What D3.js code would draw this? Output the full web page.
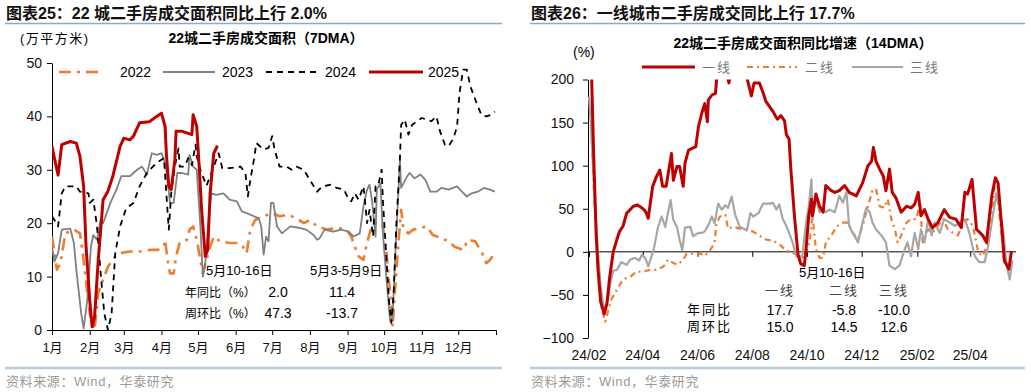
<!DOCTYPE html>
<html>
<head>
<meta charset="utf-8">
<script src="https://cdnjs.cloudflare.com/ajax/libs/d3/7.8.5/d3.min.js"></script>
<style>
body { margin: 0; background: #fff; }
text { font-family: "Liberation Sans", "Noto Sans CJK SC", sans-serif; }
</style>
</head>
<body>
<div id="chart"></div>
<script>
////////// data //////////

// left chart: day of year -> 万平方米 (7DMA)
var monthLabels = ["1月", "2月", "3月", "4月", "5月", "6月", "7月", "8月", "9月", "10月", "11月", "12月"];
var monthStarts = [0, 31, 59, 90, 120, 151, 181, 212, 243, 273, 304, 334, 365];
var leftTicks = [0, 10, 20, 30, 40, 50];
var years = ["2022", "2023", "2024", "2025"];

var area2022 = [[0,17.5],[2,14.4],[4,11.3],[7,12.5],[11,18.1],[18,18.8],[23,18.1],[26,13.1],[29,6.9],[31,3.1],[35,0],[38,6.9],[42,9.4],[46,11.9],[52,13.8],[56,14.4],[64,14.7],[72,14.7],[81,15],[87,15],[92,15.6],[93,16.9],[95,13.1],[97,10.6],[100,10.6],[102,13.8],[105,16.3],[111,16.9],[113,18.8],[116,19.4],[119,16.9],[122,13.1],[124,10.6],[127,13.1],[130,15.6],[133,17.5],[138,16.6],[146,16.3],[153,16.3],[157,15.6],[160,14.4],[163,18.8],[167,20.6],[174,21.3],[181,21.9],[187,21.3],[194,21.6],[201,20.9],[207,20],[212,20.6],[218,19.4],[226,18.8],[234,19.1],[242,18.8],[246,17.5],[249,15.6],[252,13.8],[256,13.1],[259,16.3],[262,18.8],[266,20],[270,20],[272,19.4],[275,14.4],[278,6.9],[280,0.6],[282,7.5],[285,16.9],[287,22.5],[289,18.8],[293,18.1],[297,18.8],[303,19.1],[308,19.4],[313,17.8],[320,17.2],[326,16.6],[331,15.6],[338,15],[342,16.9],[348,16.6],[352,15],[355,13.8],[357,12.5],[360,13.1],[364,14.4]];

var area2023 = [[0,15.6],[2,12.8],[5,14.4],[8,18.8],[15,19.0],[18,16.3],[20,11.3],[24,3.1],[26,0.3],[29,5.6],[32,15.6],[34,17.8],[37,16.9],[40,20.6],[42,20],[48,23.8],[53,26.3],[57,28.8],[64,28.8],[70,30],[74,30.6],[78,29.1],[82,33.1],[86,32.8],[90,33.1],[93,31.3],[95,28.1],[97,23.8],[100,23.8],[103,29.4],[107,29.4],[112,29.1],[113,32.8],[116,30.6],[119,30],[122,19.4],[124,10],[126,12.5],[129,21.3],[131,25.6],[135,25.3],[141,25.6],[146,24.4],[152,24.1],[156,22.2],[160,21.9],[166,21.3],[170,20.9],[172,19.4],[174,14.1],[176,17.5],[178,16.6],[180,23.8],[182,23.8],[185,19.4],[189,18.1],[196,19.4],[204,19.1],[209,18.8],[215,17.8],[218,16.9],[220,17.2],[224,18.8],[231,18.4],[238,18.8],[244,18.4],[248,17.5],[253,18.1],[256,23.1],[259,26.3],[261,27.2],[263,24.4],[266,17.5],[267,26.3],[270,27.5],[272,18.1],[275,9.4],[278,1.6],[280,2.5],[282,13.1],[285,26.9],[286,31.9],[287,26.6],[292,28.8],[294,29.4],[298,28.4],[303,29.1],[307,28.1],[311,25.9],[316,25.9],[320,26.6],[326,26.3],[333,26.9],[337,25.9],[341,25],[345,25.6],[350,25.9],[355,26.6],[360,26.3],[364,25.9]];

var area2024 = [[0,21.3],[2,20.6],[5,19.4],[8,25.6],[11,26.9],[20,26.9],[23,25.9],[30,25.6],[31,23.8],[34,24.4],[37,19.4],[40,10.6],[43,3.1],[46,0],[49,3.1],[52,14.4],[56,19.4],[61,22.8],[67,23.8],[72,26.9],[78,29.4],[86,31.3],[92,32.2],[94,25.6],[96,18.8],[98,25.6],[101,30.6],[104,34.0],[105,30.6],[109,30.6],[112,32.2],[115,30.9],[118,34.7],[119,32.5],[122,30],[127,27],[132,30],[137,33.1],[140,30.3],[146,30.3],[155,30.6],[159,29.4],[161,25],[163,28.1],[166,31.9],[168,35],[174,33.8],[178,34.1],[181,36.3],[183,33.8],[187,30.6],[193,30.6],[197,30],[201,30.6],[207,30],[212,28.1],[218,25.9],[222,26.9],[229,27.2],[234,26.6],[240,26.3],[244,24.4],[246,24.1],[249,25.6],[252,24.4],[256,26.9],[257,25],[259,20],[261,22.5],[264,17.5],[266,26.9],[268,26.9],[271,30],[272,24.4],[275,13.1],[277,5.6],[279,1.3],[281,7.5],[283,19.4],[286,31.9],[287,38.4],[290,39.4],[293,36.6],[296,38.4],[300,39.1],[304,39.7],[308,39.4],[312,39.1],[316,40],[319,37.2],[323,34.7],[326,34.4],[330,35.9],[333,38.1],[335,44.4],[338,48.75],[341,48.75],[344,45.6],[349,42.5],[353,40.3],[357,40],[361,40.3],[364,40.9]];

var area2025 = [[0,34.4],[2,32.2],[5,29.0],[8,34.7],[15,35.3],[20,35.0],[23,32.5],[26,26.9],[28,15.6],[31,5.6],[33,0.6],[35,2.5],[38,13.0],[42,24.4],[46,26.0],[50,28.8],[56,34.4],[59,35.9],[64,35.6],[67,36.3],[72,38.8],[80,39.0],[86,40.0],[90,40.6],[93,38.1],[94,33.1],[96,26.9],[98,26.3],[101,31.9],[102,37.2],[107,37.2],[115,36.6],[116,40.3],[119,38.1],[121,30.6],[123,22.5],[126,13.8],[128,15.0],[130,25.6],[133,33.1],[136,34.5]];

var leftNoteHead = ["5月10-16日", "5月3-5月9日"];
var leftNoteRows = [["年同比（%）", "2.0", "11.4"], ["周环比（%）", "47.3", "-13.7"]];

// right chart: days since 2024-02-01 -> YoY % (14DMA)
var rightTicks = [-100, -50, 0, 50, 100, 150, 200];
var tierNames = ["一线", "二线", "三线"];

var tier1 = [[0,250],[3,200],[5,120],[8,20],[10,-20],[13,-58],[17,-72],[20,-60],[23,-30],[27,0],[31,14],[34,23.5],[38,30],[42,45],[45,48],[49,52.6],[54,54.5],[59,51],[62,48],[64,45],[66,39],[71,76],[75,87],[79,95],[82,76],[86,76],[92,114],[94,83],[98,99],[101,99],[105,76],[107,103],[111,118],[115,120],[119,122],[122,145],[126,162],[129,172],[132,151],[133,176],[137,182],[141,184],[143,210],[148,225],[152,215],[156,196],[158,210],[163,235],[168,230],[173,215],[177,198],[181,181],[184,196],[190,196],[194,185],[197,175],[205,163],[210,154],[214,158],[218,152],[220,136],[223,131],[225,96],[229,42],[233,-3],[236,-14],[240,-16],[242,3],[245,42],[248,61],[249,42],[253,67],[257,53],[261,46],[264,77],[270,71],[274,69],[279,71],[285,77],[290,69],[298,65],[305,80],[311,100],[315,105],[317,121],[320,105],[324,96],[328,88],[331,71],[335,96],[338,69],[342,63],[348,46],[354,53],[359,51],[363,55],[367,69],[370,42],[374,49],[378,38],[383,28],[389,34],[396,49],[402,40],[409,38],[415,28],[419,69],[422,67],[427,84],[432,26],[439,19],[443,11],[449,65],[453,86],[456,80],[460,30],[463,-10],[468,-20],[471,1]];

var tier2 = [[3,134],[5,80],[8,20],[11,-30],[14,-65],[18,-81],[21,-70],[25,-55],[31,-44],[38,-32],[46,-29],[53,-23],[60,-23],[68,-21],[75,-21],[83,-17],[88,-9],[94,-13],[99,-15],[105,-9],[109,-2],[116,-2],[124,-2],[129,-5],[135,2],[140,10],[142,33],[146,41],[152,43],[155,27],[161,29],[168,27],[176,25],[183,23.5],[191,18],[198,14],[205,13],[212,9],[220,1],[227,-1],[235,-5],[240,-7],[246,11],[249,42],[253,3],[257,-7],[261,-7],[264,11],[270,19],[277,30],[283,34],[289,34],[294,22],[300,15],[305,30],[311,53],[316,71],[320,73],[324,53],[329,51],[333,61],[337,38],[341,26],[344,11],[348,19],[354,34],[359,38],[365,38],[369,57],[372,11],[378,26],[383,22],[389,30],[395,38],[400,26],[406,22],[411,19],[417,32],[422,38],[428,30],[434,-1],[439,-5],[445,11],[449,42],[452,75],[456,57],[460,19],[463,-12],[468,-16],[472,-6]];

var tier3 = [[0,180],[2,150],[4,110],[7,50],[10,0],[13,-40],[16,-62],[18,-65],[21,-55],[24,-35],[27,-22],[31,-21],[36,-12],[42,-15],[46,-9],[51,-7],[56,-10],[59,-3.5],[63,-8],[66,-17],[72,2],[77,29],[81,41],[85,29],[88,45],[91,60],[94,37],[98,29],[101,14],[104,2],[107,28],[113,29],[116,18],[122,22],[126,22],[129,23.5],[133,31],[137,41],[140,33],[144,56],[148,49],[152,54],[155,51],[159,64],[163,43],[168,29],[176,25],[180,45],[183,41],[189,45],[194,56],[202,56],[205,57],[209,49],[212,55],[216,38],[220,30],[223,22],[227,11],[231,-5],[235,-7],[238,-3],[242,34],[245,53],[248,84],[249,38],[253,61],[257,46],[261,49],[264,46],[268,49],[274,46],[279,65],[283,57],[287,69],[290,30],[294,22],[300,11],[303,26],[309,51],[313,46],[316,34],[320,26],[326,19],[331,11],[335,-16],[341,-20],[346,-16],[352,3],[355,11],[359,-5],[363,22],[367,3],[370,26],[374,11],[378,38],[382,19],[385,34],[391,22],[396,38],[402,34],[408,30],[413,34],[419,38],[424,22],[430,-5],[435,-12],[441,-12],[445,7],[449,34],[454,67],[458,49],[462,22],[465,-12],[469,-32],[472,-10]];

var rightNoteRows = [["年同比", "17.7", "-5.8", "-10.0"], ["周环比", "15.0", "14.5", "12.6"]];

////////// setup //////////

var svg = d3.select("#chart").append("svg")
    .attr("width", 1031)
    .attr("height", 392);

var defs = svg.append("defs");

function header(x0, x1, title) {
    svg.append("text")
        .attr("x", x0 + 1).attr("y", 19)
        .attr("font-size", 16).attr("font-weight", "bold")
        .attr("fill", "#111")
        .text(title);
    svg.append("line")
        .attr("x1", x0).attr("x2", x1).attr("y1", 23.5).attr("y2", 23.5)
        .attr("stroke", "#8ea9c9").attr("stroke-width", 1.5);
    svg.append("line")
        .attr("x1", x0).attr("x2", x1).attr("y1", 368).attr("y2", 368)
        .attr("stroke", "#b8cce0").attr("stroke-width", 2.5);
    svg.append("text")
        .attr("x", x0 + 1).attr("y", 386)
        .attr("font-size", 13).attr("fill", "#9a9a9a")
        .attr("letter-spacing", 0.6)
        .text("资料来源：Wind，华泰研究");
}

function styleAxis(g) {
    g.selectAll("path").attr("stroke", "#000");
    g.selectAll("line").attr("stroke", "#000");
    g.selectAll("text").attr("fill", "#111").attr("font-family", null);
}

////////// left chart //////////

header(5, 502, "图表25：22 城二手房成交面积同比上行 2.0%");

var xL = d3.scaleLinear().domain([0, 365]).range([52, 496]);
var yL = d3.scaleLinear().domain([0, 50]).range([330, 63]);

svg.append("text")
    .attr("x", 20).attr("y", 43).attr("font-size", 13).attr("letter-spacing", 1.5)
    .text("(万平方米)");
svg.append("text")
    .attr("x", 266).attr("y", 43).attr("text-anchor", "middle")
    .attr("font-size", 14).attr("font-weight", "bold")
    .text("22城二手房成交面积（7DMA）");

svg.append("g")
    .attr("transform", "translate(52,0)")
    .call(d3.axisLeft(yL).tickValues(leftTicks).tickSize(5).tickSizeOuter(0).tickPadding(5))
    .call(styleAxis)
    .selectAll("text").attr("font-size", 14);

svg.append("g")
    .attr("transform", "translate(0,330)")
    .call(d3.axisBottom(xL).tickValues(monthStarts).tickSize(5).tickSizeOuter(0).tickPadding(8)
        .tickFormat(function(d, i) { return i < 12 ? monthLabels[i] : ""; }))
    .call(styleAxis)
    .selectAll("text").attr("font-size", 13);

var leftStyle = {
    "2022": { color: "#ed7d31", width: 2.6, dash: "12,6,3,6" },
    "2023": { color: "#808080", width: 1.8, dash: null },
    "2024": { color: "#000000", width: 1.8, dash: "6,5" },
    "2025": { color: "#c00000", width: 3, dash: null }
};
var leftSeries = { "2022": area2022, "2023": area2023, "2024": area2024, "2025": area2025 };

defs.append("clipPath").attr("id", "clipL").append("rect")
    .attr("x", 52).attr("y", 60).attr("width", 446).attr("height", 272);

var lineL = d3.line()
    .x(function(d) { return xL(d[0]); })
    .y(function(d) { return yL(d[1]); });

var plotL = svg.append("g").attr("clip-path", "url(#clipL)");
years.forEach(function(yr) {
    var s = leftStyle[yr];
    plotL.append("path")
        .datum(leftSeries[yr])
        .attr("fill", "none")
        .attr("stroke", s.color)
        .attr("stroke-width", s.width)
        .attr("stroke-dasharray", s.dash)
        .attr("stroke-linejoin", "round")
        .attr("d", lineL);
});

// legend
var legL = [[59, 103, 120], [163, 215, 222], [266, 316, 325], [369, 423, 428]];
years.forEach(function(yr, i) {
    var s = leftStyle[yr];
    svg.append("line")
        .attr("x1", legL[i][0]).attr("x2", legL[i][1]).attr("y1", 72).attr("y2", 72)
        .attr("stroke", s.color).attr("stroke-width", s.width)
        .attr("stroke-dasharray", s.dash);
    svg.append("text")
        .attr("x", legL[i][2]).attr("y", 77).attr("font-size", 14)
        .text(yr);
});

// notes
svg.append("text").attr("x", 206).attr("y", 275).attr("font-size", 13).text(leftNoteHead[0]);
svg.append("text").attr("x", 310).attr("y", 275).attr("font-size", 13).text(leftNoteHead[1]);
leftNoteRows.forEach(function(row, i) {
    var y = 296.5 + i * 21;
    svg.append("text").attr("x", 185).attr("y", y).attr("font-size", 12)
        .text(row[0]);
    svg.append("text").attr("x", 278).attr("y", y).attr("font-size", 14)
        .attr("text-anchor", "middle").text(row[1]);
    svg.append("text").attr("x", 342).attr("y", y).attr("font-size", 14)
        .attr("text-anchor", "middle").text(row[2]);
});

////////// right chart //////////

header(530, 1025, "图表26：一线城市二手房成交同比上行 17.7%");

var startDay = new Date(2024, 1, 1);
var xR = d3.scaleTime()
    .domain([startDay, d3.timeDay.offset(startDay, 476)])
    .range([589, 1016]);
var yR = d3.scaleLinear().domain([-100, 200]).range([338, 79.5]);
var formatTick = d3.timeFormat("%y/%m");

svg.append("text")
    .attr("x", 803).attr("y", 48).attr("text-anchor", "middle")
    .attr("font-size", 14).attr("font-weight", "bold")
    .text("22城二手房成交面积同比增速（14DMA）");
svg.append("text")
    .attr("x", 573).attr("y", 57).attr("font-size", 14)
    .text("(%)");

svg.append("g")
    .attr("transform", "translate(588,0)")
    .call(d3.axisLeft(yR).tickValues(rightTicks).tickSize(5).tickSizeOuter(0).tickPadding(9))
    .call(styleAxis)
    .selectAll("text").attr("font-size", 14);

// every second month starting at 24/02
var monthTicks = d3.timeMonth.range(startDay, new Date(2025, 4, 2), 2);

var xAxisR = svg.append("g")
    .attr("transform", "translate(0," + yR(0) + ")")
    .call(d3.axisBottom(xR).tickValues(monthTicks).tickSize(5).tickSizeOuter(0).tickFormat(""))
    .call(styleAxis);
xAxisR.select(".domain").attr("d", "M" + 588 + ",0H" + 1016);

svg.append("g").selectAll("text")
    .data(monthTicks)
    .enter()
    .append("text")
    .attr("x", function(d) { return xR(d); })
    .attr("y", 360)
    .attr("text-anchor", "middle")
    .attr("font-size", 14)
    .attr("fill", "#111")
    .text(function(d) { return formatTick(d); });

var rightStyle = [
    { color: "#c00000", width: 3, dash: null },
    { color: "#ed7d31", width: 2.2, dash: "6,4,2,4" },
    { color: "#a6a6a6", width: 2.2, dash: null }
];
var rightSeries = [tier1, tier2, tier3];

defs.append("clipPath").attr("id", "clipR").append("rect")
    .attr("x", 588).attr("y", 79.5).attr("width", 430).attr("height", 259);

var lineR = d3.line()
    .x(function(d) { return xR(d3.timeDay.offset(startDay, d[0])); })
    .y(function(d) { return yR(d[1]); });

var plotR = svg.append("g").attr("clip-path", "url(#clipR)");
[1, 2, 0].forEach(function(i) {
    var s = rightStyle[i];
    plotR.append("path")
        .datum(rightSeries[i])
        .attr("fill", "none")
        .attr("stroke", s.color)
        .attr("stroke-width", s.width)
        .attr("stroke-dasharray", s.dash)
        .attr("stroke-linejoin", "round")
        .attr("d", lineR);
});

var legR = [[642, 695, 702], [747, 797, 805], [852, 903, 910]];
tierNames.forEach(function(name, i) {
    var s = rightStyle[i];
    svg.append("line")
        .attr("x1", legR[i][0]).attr("x2", legR[i][1]).attr("y1", 67).attr("y2", 67)
        .attr("stroke", s.color).attr("stroke-width", s.width)
        .attr("stroke-dasharray", s.dash);
    svg.append("text")
        .attr("x", legR[i][2]).attr("y", 72).attr("font-size", 13)
        .attr("fill", "#777").attr("letter-spacing", 2)
        .text(name);
});

// notes
var noteCols = [780, 844, 894];
svg.append("text").attr("x", 799).attr("y", 277).attr("font-size", 13).text("5月10-16日");
tierNames.forEach(function(name, i) {
    svg.append("text").attr("x", noteCols[i]).attr("y", 295).attr("font-size", 13)
        .attr("text-anchor", "middle").attr("fill", "#444").attr("letter-spacing", 2)
        .text(name);
});
rightNoteRows.forEach(function(row, r) {
    var y = 313.5 + r * 17;
    svg.append("text").attr("x", 687).attr("y", y).attr("font-size", 13)
        .attr("letter-spacing", 2).text(row[0]);
    row.slice(1).forEach(function(v, i) {
        svg.append("text").attr("x", noteCols[i]).attr("y", y + 1).attr("font-size", 14)
            .attr("text-anchor", "middle").text(v);
    });
});
</script>
</body>
</html>
